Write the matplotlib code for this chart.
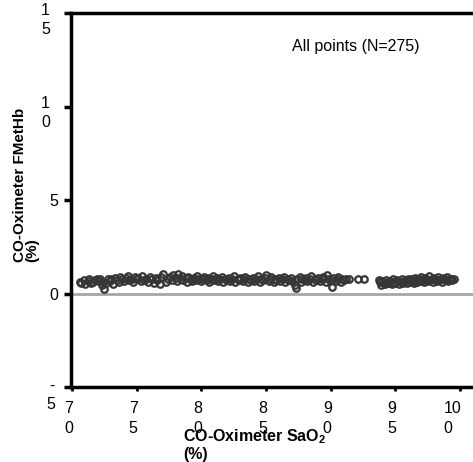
import matplotlib.pyplot as plt
from matplotlib.transforms import ScaledTranslation

# values (x = SaO2 %, y = FMetHb %)
sao2 = [70.6, 70.7, 70.9, 71.0, 71.2, 71.3, 71.5, 71.6, 71.8, 71.9,
        72.1, 72.2, 72.3, 72.4, 72.5, 72.6, 72.8, 72.9, 73.0, 73.2,
        73.3, 73.5, 73.6, 73.7, 73.9, 74.0, 74.2, 74.3, 74.4, 74.6,
        74.7, 74.9, 75.0, 75.1, 75.3, 75.4, 75.6, 75.7, 75.9, 76.0,
        76.2, 76.3, 76.5, 76.6, 76.8, 76.9, 77.0,
        77.3, 77.4, 77.6, 77.7, 77.8, 78.0, 78.1, 78.2, 78.4, 78.5,
        78.6, 78.8, 78.9, 79.0, 79.2, 79.3, 79.4, 79.6, 79.7, 79.8,
        80.0, 80.1, 80.2, 80.4, 80.5, 80.6, 80.8, 80.9, 81.0, 81.2,
        81.3, 81.4, 81.6, 81.7, 81.8, 82.0, 82.1, 82.2, 82.4, 82.5,
        82.6, 82.8, 82.9, 83.0, 83.2, 83.3, 83.4, 83.6, 83.7, 83.8,
        84.0, 84.1, 84.2, 84.4, 84.5, 84.6, 84.8, 84.9, 85.0, 85.2,
        85.3, 85.4, 85.6, 85.7, 85.8, 86.0, 86.1, 86.2, 86.4, 86.5,
        86.6, 86.8, 86.9, 87.0, 87.2, 87.3, 87.4, 87.6, 87.7, 87.8,
        88.0, 88.1, 88.2, 88.4, 88.5, 88.6, 88.8, 88.9, 89.0, 89.2,
        89.3, 89.4, 89.6, 89.7, 89.8, 90.0, 90.1, 90.2, 90.4, 90.5,
        90.6, 90.8, 90.9, 91.0, 91.2, 91.4,
        92.1, 92.6,
        93.7, 93.8, 93.9, 94.0, 94.1, 94.2, 94.3, 94.4, 94.5, 94.6,
        94.7, 94.8, 94.9, 95.0, 95.1, 95.2, 95.3, 95.4, 95.5, 95.6,
        95.7, 95.8, 95.9, 96.0, 96.1, 96.2, 96.3, 96.4, 96.5, 96.6,
        96.7, 96.8, 96.9, 97.0, 97.1, 97.2, 97.3, 97.4, 97.5, 97.6,
        97.7, 97.8, 97.9, 98.0, 98.1, 98.2, 98.3, 98.4, 98.5, 98.6,
        98.7, 98.8, 98.9, 99.0, 99.1, 99.2, 99.3, 99.4, 99.5]
fmethb = [0.60, 0.55, 0.70, 0.50, 0.65, 0.75, 0.55, 0.60, 0.70, 0.80,
          0.65, 0.75, 0.45, 0.60, 0.25, 0.55, 0.80, 0.65, 0.75, 0.50,
          0.85, 0.70, 0.60, 0.90, 0.75, 0.65, 0.85, 0.95, 0.70, 0.80,
          0.60, 0.90, 0.75, 0.85, 0.65, 0.95, 0.70, 0.80, 0.60, 0.90,
          0.75, 0.55, 0.85, 0.70, 0.50, 0.90, 1.05,
          0.60, 0.75, 0.90, 0.70, 1.00, 0.85, 0.65, 1.05, 0.80, 0.95,
          0.70, 0.85, 0.60, 0.90, 0.75, 0.65, 0.85, 0.70, 0.95, 0.80,
          0.65, 0.75, 0.90, 0.70, 0.85, 0.60, 0.80, 0.95, 0.70, 0.85,
          0.65, 0.75, 0.90, 0.60, 0.80, 0.70, 0.85, 0.65, 0.75, 0.95,
          0.60, 0.80, 0.70, 0.85, 0.65, 0.75, 0.90, 0.60, 0.80, 0.70,
          0.85, 0.65, 0.75, 0.95, 0.60, 0.80, 0.70, 0.85, 1.00, 0.65,
          0.75, 0.90, 0.60, 0.80, 0.70, 0.85, 0.65, 0.75, 0.90, 0.60,
          0.80, 0.70, 0.85, 0.65, 0.45, 0.30, 0.75, 0.90, 0.60, 0.80,
          0.70, 0.85, 0.65, 0.75, 0.95, 0.60, 0.80, 0.70, 0.85, 0.65,
          0.75, 0.90, 0.60, 1.00, 0.80, 0.70, 0.35, 0.85, 0.65, 0.75,
          0.90, 0.60, 0.80, 0.70, 0.75, 0.80,
          0.80, 0.80,
          0.70, 0.60, 0.45, 0.65, 0.55, 0.50, 0.70, 0.60, 0.55, 0.65,
          0.50, 0.75, 0.60, 0.55, 0.70, 0.65, 0.50, 0.60, 0.75, 0.55,
          0.65, 0.70, 0.55, 0.80, 0.60, 0.75, 0.65, 0.55, 0.85, 0.70,
          0.60, 0.80, 0.65, 0.90, 0.70, 0.60, 0.85, 0.75, 0.65, 0.95,
          0.70, 0.80, 0.60, 0.85, 0.75, 0.65, 0.90, 0.70, 0.80, 0.60,
          0.85, 0.75, 0.70, 0.90, 0.65, 0.80, 0.75, 0.70, 0.80]

x_ticks = [70, 75, 80, 85, 90, 95, 100]
x_labels = ["7\n0", "7\n5", "8\n0", "8\n5", "9\n0", "9\n5", "10\n0"]
y_ticks = [-5, 0, 5, 10, 15]
y_labels = ["-\n5", "0", "5", "1\n0", "1\n5"]

plt.rcParams['font.family'] = ['Liberation Sans', 'DejaVu Sans']
plt.rcParams['mathtext.fontset'] = 'custom'
plt.rcParams['mathtext.bf'] = 'Liberation Sans:bold'
plt.rcParams['mathtext.rm'] = 'Liberation Sans:bold'

fig = plt.figure(figsize=(4.73, 4.62), dpi=100)
ax = fig.add_axes([71 / 473, 75 / 462, 1 - 71 / 473, 374 / 462])

ax.axhline(0, color='#a6a6a6', lw=2, zorder=1)
ax.plot(sao2, fmethb, 'o', mfc='none', mec='#363636', mew=1.6, ms=4.7, zorder=2)

ax.set_xlim(69.92, 101.0)
ax.set_ylim(-5, 15)

ax.tick_params(axis='y', length=5, width=2.5, pad=4.5, labelsize=11.5)
ax.tick_params(axis='x', length=3, width=2, pad=7, labelsize=11.5)
ax.set_xticks(x_ticks)
ax.set_xticklabels(x_labels, ha='right', ma='left', linespacing=1.45)
ax.set_yticks(y_ticks)
ax.set_yticklabels(y_labels, linespacing=1.3)

# two-line y labels sit a bit lower and further left (pixel offsets)
y_shift = [(-3, -5), (0, 0), (0, 0), (-8, -3.5), (-8, -3.5)]
for lab, (dx, dy) in zip(ax.get_yticklabels(), y_shift):
    lab.set_transform(lab.get_transform() + ScaledTranslation(dx / 100, dy / 100, fig.dpi_scale_trans))
for lab in ax.get_xticklabels():
    lab.set_transform(lab.get_transform() + ScaledTranslation(1 / 100, 0, fig.dpi_scale_trans))

for s in ['top', 'left', 'bottom']:
    ax.spines[s].set_linewidth(2.5)
ax.spines['right'].set_visible(False)

fig.text(292 / 473, 1 - 47 / 462, "All points (N=275)", fontsize=11.5, va='center', ha='left')

fig.text(183 / 473, 1 - 427 / 462, "CO-Oximeter SaO$_2$\n(%)", fontsize=11.5,
         fontweight='bold', ha='left', va='top', multialignment='left', linespacing=1.1)
fig.text(26 / 473, 1 - 262 / 462, "CO-Oximeter FMetHb\n(%)", fontsize=11,
         fontweight='bold', rotation=90, ha='center', va='bottom',
         multialignment='left', linespacing=0.85)

fig.savefig('out.png', dpi=100)
